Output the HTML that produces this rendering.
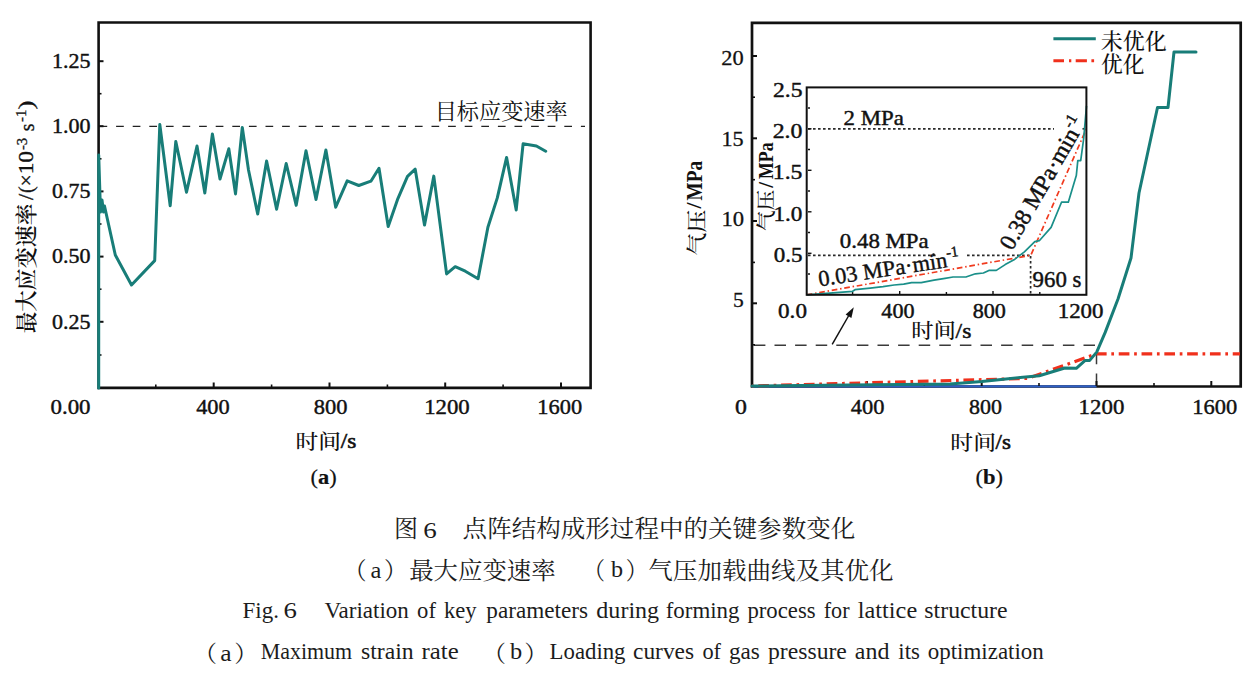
<!DOCTYPE html>
<html><head><meta charset="utf-8">
<style>
html,body{margin:0;padding:0;background:#fff;}
body{width:1254px;height:675px;overflow:hidden;position:relative;}
svg{position:absolute;left:0;top:0;}
</style></head><body>
<svg width="1254" height="675" viewBox="0 0 1254 675">
<!-- ===== PANEL A ===== -->
<path d="M98.6,22.5 H590.6 V387.9 H98.6 Z" fill="none" stroke="#111" stroke-width="2.6"/>
<line x1="99.5" y1="126.4" x2="585" y2="126.4" stroke="#222" stroke-width="1.4" stroke-dasharray="7.7 8.9"/>
<g stroke="#111" stroke-width="2">
  <line x1="99" y1="61.2" x2="103.5" y2="61.2"/>
  <line x1="99" y1="126.2" x2="103.5" y2="126.2"/>
  <line x1="99" y1="191.4" x2="103.5" y2="191.4"/>
  <line x1="99" y1="256.6" x2="103.5" y2="256.6"/>
  <line x1="99" y1="321.8" x2="103.5" y2="321.8"/>
  <line x1="213.7" y1="387" x2="213.7" y2="382.5"/>
  <line x1="329.5" y1="387" x2="329.5" y2="382.5"/>
  <line x1="445.2" y1="387" x2="445.2" y2="382.5"/>
  <line x1="561" y1="387" x2="561" y2="382.5"/>
</g>
<g stroke="#111" stroke-width="1.6">
  <line x1="99" y1="93.7" x2="101.5" y2="93.7"/>
  <line x1="99" y1="158.8" x2="101.5" y2="158.8"/>
  <line x1="99" y1="224" x2="101.5" y2="224"/>
  <line x1="99" y1="289.2" x2="101.5" y2="289.2"/>
  <line x1="99" y1="355" x2="101.5" y2="355"/>
  <line x1="155.8" y1="387" x2="155.8" y2="384.5"/>
  <line x1="271.6" y1="387" x2="271.6" y2="384.5"/>
  <line x1="387.4" y1="387" x2="387.4" y2="384.5"/>
  <line x1="503.1" y1="387" x2="503.1" y2="384.5"/>
</g>
<polyline fill="none" stroke="#187d78" stroke-width="3" stroke-linejoin="round" stroke-linecap="round"
 points="98.7,388 98.7,155 100.5,212 102,200 103.5,212 104.5,206 115.3,255 131.5,285 154.7,260.6 159.8,124.5 170.2,205.7 175.8,141.5 186.5,192.2 197,146 204.8,193 212.4,134 220,179 228.8,148.8 235.5,193.9 242.3,127.5 248.5,170 257.7,214 266.6,161 276.6,209.2 286.2,163.5 296.2,205.3 306,150.8 316,199.5 325.9,150 335.7,207.2 347.2,180.8 358.8,185.5 370.9,181.2 379,168.3 388.2,226.5 397.9,198.6 407.5,176.4 415.2,169.2 424.5,225.1 433.8,176.1 446.6,273.9 455.2,266.7 465.3,271.2 478.1,278.7 487.9,227.2 497.3,197.9 506.6,157.4 516.2,209.9 523.1,143.8 536.4,146 545.7,151.3"/>

<!-- ===== PANEL B ===== -->
<path d="M752,22.8 H1240.7 V386.5 H752 Z" fill="none" stroke="#111" stroke-width="2.7"/>
<line x1="752" y1="386.4" x2="1096.5" y2="386.4" stroke="#2f5fc4" stroke-width="2.4"/>
<polyline points="753,345.2 1096.5,345.2 1096.5,386" fill="none" stroke="#3a3a3a" stroke-width="1.5" stroke-dasharray="11.5 9.1" stroke-dashoffset="-0.9"/>
<line x1="832.2" y1="344.3" x2="848.5" y2="316" stroke="#111" stroke-width="1.5"/>
<polygon points="853.8,307.2 845.6,314.6 851.4,318" fill="#111"/>
<g stroke="#111" stroke-width="2">
  <line x1="752" y1="56" x2="757" y2="56"/>
  <line x1="752" y1="138.3" x2="757" y2="138.3"/>
  <line x1="752" y1="221" x2="757" y2="221"/>
  <line x1="752" y1="303.3" x2="757" y2="303.3"/>
  <line x1="867" y1="386" x2="867" y2="381"/>
  <line x1="981.7" y1="386" x2="981.7" y2="381"/>
  <line x1="1096.5" y1="386" x2="1096.5" y2="381"/>
  <line x1="1211.3" y1="386" x2="1211.3" y2="381"/>
</g>
<g stroke="#111" stroke-width="1.6">
  <line x1="752" y1="97.2" x2="755" y2="97.2"/>
  <line x1="752" y1="179.7" x2="755" y2="179.7"/>
  <line x1="752" y1="262.4" x2="755" y2="262.4"/>
  <line x1="752" y1="344.8" x2="755" y2="344.8"/>
  <line x1="809.5" y1="386" x2="809.5" y2="383"/>
  <line x1="924.3" y1="386" x2="924.3" y2="383"/>
  <line x1="1039" y1="386" x2="1039" y2="383"/>
  <line x1="1154" y1="386" x2="1154" y2="383"/>
</g>
<polyline fill="none" stroke="#f0301c" stroke-width="3.2" stroke-dasharray="10.7 4.7 2.7 4.7" stroke-dashoffset="16.5"
 points="752,386 1027.7,378.4 1096.5,353.8 1240,353.8"/>
<polyline fill="none" stroke="#187d78" stroke-width="3" stroke-linejoin="round" stroke-linecap="round"
 points="752,386 800,385.6 850,385.1 900,384.6 950,384 981.9,381.5 1020.2,377.6 1039.3,375.7 1064.8,368 1076.3,368.3 1085.2,360.4 1089.7,360.4 1096.7,352.1 1105.2,332.4 1118,299 1131,258 1139,193 1157.5,107.5 1168,107.5 1174,52 1196,52"/>
<!-- legend -->
<line x1="1053.4" y1="38.8" x2="1095.8" y2="38.8" stroke="#187d78" stroke-width="3"/>
<line x1="1053.4" y1="60.7" x2="1096" y2="60.7" stroke="#f0301c" stroke-width="3" stroke-dasharray="10.6 5 2.3 4.4 11.2 4.5 2.7 9"/>

<!-- ===== INSET ===== -->
<rect x="806.7" y="87.4" width="279.7" height="207.4" fill="#fff"/>
<line x1="808" y1="128.8" x2="1054" y2="128.8" stroke="#2a2a2a" stroke-width="1.7" stroke-dasharray="2.6 2.4"/>
<line x1="1082.5" y1="128.8" x2="1086" y2="128.8" stroke="#2a2a2a" stroke-width="1.7" stroke-dasharray="2.6 2.4"/>
<line x1="808" y1="255.3" x2="936" y2="255.3" stroke="#2a2a2a" stroke-width="1.7" stroke-dasharray="2.6 2.4"/>
<circle cx="933.5" cy="254.5" r="1.3" fill="#111"/>
<line x1="967" y1="255.3" x2="1030.5" y2="255.3" stroke="#2a2a2a" stroke-width="1.7" stroke-dasharray="2.6 2.4"/>
<line x1="1030.6" y1="256" x2="1030.6" y2="294" stroke="#2a2a2a" stroke-width="1.7" stroke-dasharray="2.6 2.4"/>
<g stroke="#111" stroke-width="1.4">
  <line x1="808" y1="128.8" x2="811.5" y2="128.8"/>
  <line x1="808" y1="170.3" x2="811.5" y2="170.3"/>
  <line x1="808" y1="211.8" x2="811.5" y2="211.8"/>
  <line x1="808" y1="253.3" x2="811.5" y2="253.3"/>
  <line x1="808" y1="108" x2="810" y2="108"/>
  <line x1="808" y1="149.5" x2="810" y2="149.5"/>
  <line x1="808" y1="191" x2="810" y2="191"/>
  <line x1="808" y1="232.5" x2="810" y2="232.5"/>
  <line x1="808" y1="274" x2="810" y2="274"/>
  <line x1="852.6" y1="295" x2="852.6" y2="292"/>
  <line x1="899.7" y1="295" x2="899.7" y2="291"/>
  <line x1="946.4" y1="295" x2="946.4" y2="292"/>
  <line x1="993" y1="295" x2="993" y2="291"/>
  <line x1="1039.8" y1="295" x2="1039.8" y2="292"/>
</g>
<polyline fill="none" stroke="#f03a1e" stroke-width="1.7" stroke-dasharray="5.7 2.8 1.5 2.7"
 points="806.7,294.8 1030.8,255.3 1086,129.6"/>
<polyline fill="none" stroke="#1a8f89" stroke-width="1.7" stroke-linejoin="round"
 points="806.7,294.8 852.6,291.3 855,289.7 870.2,288.1 883,286.6 894.1,285 903.7,284.2 911.6,282.6 921.2,282.6 934,280.2 943.5,278.6 953.1,277 965.9,277 975.4,273.8 983.4,273 988.9,270.4 996.3,270.4 1005.2,264.6 1014,259.8 1024.4,251.8 1034.8,241.6 1039.3,240.7 1051.1,227.4 1061.5,202.2 1068.3,202.2 1076.3,175.6 1077.8,160.7 1080.7,160.7 1083.7,138.5 1086.5,105.9"/>
<rect x="806.7" y="87.4" width="279.7" height="207.4" fill="none" stroke="#111" stroke-width="2"/>

<text x="51.98" y="68.02" font-family='"Liberation Serif", serif' font-weight="400" font-size="22" textLength="38.50" lengthAdjust="spacingAndGlyphs" fill="#111"  stroke="#111" stroke-width="0.45">1.25</text>
<text x="51.98" y="132.93" font-family='"Liberation Serif", serif' font-weight="400" font-size="22" textLength="38.50" lengthAdjust="spacingAndGlyphs" fill="#111"  stroke="#111" stroke-width="0.45">1.00</text>
<text x="51.98" y="198.23" font-family='"Liberation Serif", serif' font-weight="400" font-size="22" textLength="38.50" lengthAdjust="spacingAndGlyphs" fill="#111"  stroke="#111" stroke-width="0.45">0.75</text>
<text x="51.98" y="263.23" font-family='"Liberation Serif", serif' font-weight="400" font-size="22" textLength="38.50" lengthAdjust="spacingAndGlyphs" fill="#111"  stroke="#111" stroke-width="0.45">0.50</text>
<text x="51.98" y="328.83" font-family='"Liberation Serif", serif' font-weight="400" font-size="22" textLength="38.50" lengthAdjust="spacingAndGlyphs" fill="#111"  stroke="#111" stroke-width="0.45">0.25</text>
<text x="50.49" y="413.93" font-family='"Liberation Serif", serif' font-weight="400" font-size="22" textLength="40.03" lengthAdjust="spacingAndGlyphs" fill="#111" stroke="#111" stroke-width="0.45">0.00</text>
<text x="196.15" y="413.93" font-family='"Liberation Serif", serif' font-weight="400" font-size="22" textLength="33.54" lengthAdjust="spacingAndGlyphs" fill="#111" stroke="#111" stroke-width="0.45">400</text>
<text x="313.70" y="413.93" font-family='"Liberation Serif", serif' font-weight="400" font-size="22" textLength="33.70" lengthAdjust="spacingAndGlyphs" fill="#111" stroke="#111" stroke-width="0.45">800</text>
<text x="424.15" y="413.93" font-family='"Liberation Serif", serif' font-weight="400" font-size="22" textLength="45.56" lengthAdjust="spacingAndGlyphs" fill="#111" stroke="#111" stroke-width="0.45">1200</text>
<text x="537.38" y="413.93" font-family='"Liberation Serif", serif' font-weight="400" font-size="22" textLength="44.81" lengthAdjust="spacingAndGlyphs" fill="#111" stroke="#111" stroke-width="0.45">1600</text>
<text x="434.68" y="118.50" font-family='"Noto Serif CJK SC", serif' font-weight="400" font-size="22" textLength="133.02" lengthAdjust="spacingAndGlyphs" fill="#111" >目标应变速率</text>
<text x="295.48" y="448.62" font-family='"Noto Serif CJK SC", serif' font-weight="500" font-size="20.5" textLength="45.50" lengthAdjust="spacingAndGlyphs" fill="#111" >时间</text>
<text x="340.80" y="447.52" font-family='"Liberation Serif", serif' font-weight="400" font-size="22" textLength="15.54" lengthAdjust="spacingAndGlyphs" fill="#111" stroke="#111" stroke-width="0.6">/s</text>
<text x="310.64" y="483.69" font-family='"Liberation Serif", serif' font-weight="400" font-size="22" textLength="26.12" lengthAdjust="spacingAndGlyphs" fill="#111"  stroke="#111" stroke-width="0.2">(<tspan font-weight="700">a</tspan>)</text>
<text x="721.29" y="64.93" font-family='"Liberation Serif", serif' font-weight="400" font-size="22" textLength="22.40" lengthAdjust="spacingAndGlyphs" fill="#111"  stroke="#111" stroke-width="0.3">20</text>
<text x="721.50" y="145.52" font-family='"Liberation Serif", serif' font-weight="400" font-size="22" textLength="22.18" lengthAdjust="spacingAndGlyphs" fill="#111"  stroke="#111" stroke-width="0.3">15</text>
<text x="721.46" y="226.43" font-family='"Liberation Serif", serif' font-weight="400" font-size="22" textLength="22.64" lengthAdjust="spacingAndGlyphs" fill="#111"  stroke="#111" stroke-width="0.3">10</text>
<text x="732.91" y="306.81" font-family='"Liberation Serif", serif' font-weight="400" font-size="22" textLength="10.75" lengthAdjust="spacingAndGlyphs" fill="#111"  stroke="#111" stroke-width="0.3">5</text>
<text x="735.05" y="413.83" font-family='"Liberation Serif", serif' font-weight="400" font-size="22" textLength="11.90" lengthAdjust="spacingAndGlyphs" fill="#111" stroke="#111" stroke-width="0.45">0</text>
<text x="850.75" y="413.83" font-family='"Liberation Serif", serif' font-weight="400" font-size="22" textLength="33.65" lengthAdjust="spacingAndGlyphs" fill="#111" stroke="#111" stroke-width="0.45">400</text>
<text x="968.92" y="413.83" font-family='"Liberation Serif", serif' font-weight="400" font-size="22" textLength="32.96" lengthAdjust="spacingAndGlyphs" fill="#111" stroke="#111" stroke-width="0.45">800</text>
<text x="1078.64" y="413.83" font-family='"Liberation Serif", serif' font-weight="400" font-size="22" textLength="45.67" lengthAdjust="spacingAndGlyphs" fill="#111" stroke="#111" stroke-width="0.45">1200</text>
<text x="1192.28" y="413.83" font-family='"Liberation Serif", serif' font-weight="400" font-size="22" textLength="44.92" lengthAdjust="spacingAndGlyphs" fill="#111" stroke="#111" stroke-width="0.45">1600</text>
<text x="950.38" y="449.70" font-family='"Noto Serif CJK SC", serif' font-weight="500" font-size="20" textLength="45.61" lengthAdjust="spacingAndGlyphs" fill="#111" >时间</text>
<text x="995.60" y="449.02" font-family='"Liberation Serif", serif' font-weight="400" font-size="22" textLength="15.33" lengthAdjust="spacingAndGlyphs" fill="#111" stroke="#111" stroke-width="0.6">/s</text>
<text x="975.44" y="483.69" font-family='"Liberation Serif", serif' font-weight="400" font-size="22" textLength="27.53" lengthAdjust="spacingAndGlyphs" fill="#111"  stroke="#111" stroke-width="0.2">(<tspan font-weight="700">b</tspan>)</text>
<text x="1100.83" y="49.39" font-family='"Noto Serif CJK SC", serif' font-weight="500" font-size="22" textLength="65.94" lengthAdjust="spacingAndGlyphs" fill="#111" >未优化</text>
<text x="1100.95" y="71.79" font-family='"Noto Serif CJK SC", serif' font-weight="500" font-size="22" textLength="43.41" lengthAdjust="spacingAndGlyphs" fill="#111" >优化</text>
<text x="772.94" y="97.09" font-family='"Liberation Serif", serif' font-weight="400" font-size="21.5" textLength="29.51" lengthAdjust="spacingAndGlyphs" fill="#111"  stroke="#111" stroke-width="0.45">2.5</text>
<text x="772.73" y="137.80" font-family='"Liberation Serif", serif' font-weight="400" font-size="21.5" textLength="29.72" lengthAdjust="spacingAndGlyphs" fill="#111"  stroke="#111" stroke-width="0.45">2.0</text>
<text x="772.87" y="179.19" font-family='"Liberation Serif", serif' font-weight="400" font-size="21.5" textLength="29.58" lengthAdjust="spacingAndGlyphs" fill="#111"  stroke="#111" stroke-width="0.45">1.5</text>
<text x="773.52" y="220.80" font-family='"Liberation Serif", serif' font-weight="400" font-size="21.5" textLength="28.91" lengthAdjust="spacingAndGlyphs" fill="#111"  stroke="#111" stroke-width="0.45">1.0</text>
<text x="773.68" y="262.10" font-family='"Liberation Serif", serif' font-weight="400" font-size="21.5" textLength="28.74" lengthAdjust="spacingAndGlyphs" fill="#111"  stroke="#111" stroke-width="0.45">0.5</text>
<text x="778.08" y="317.60" font-family='"Liberation Serif", serif' font-weight="400" font-size="21.5" textLength="28.85" lengthAdjust="spacingAndGlyphs" fill="#111"  stroke="#111" stroke-width="0.45">0.0</text>
<text x="881.36" y="317.60" font-family='"Liberation Serif", serif' font-weight="400" font-size="21.5" textLength="33.13" lengthAdjust="spacingAndGlyphs" fill="#111"  stroke="#111" stroke-width="0.45">400</text>
<text x="972.72" y="317.60" font-family='"Liberation Serif", serif' font-weight="400" font-size="21.5" textLength="33.17" lengthAdjust="spacingAndGlyphs" fill="#111"  stroke="#111" stroke-width="0.45">800</text>
<text x="1057.74" y="317.60" font-family='"Liberation Serif", serif' font-weight="400" font-size="21.5" textLength="45.78" lengthAdjust="spacingAndGlyphs" fill="#111"  stroke="#111" stroke-width="0.45">1200</text>
<text x="911.21" y="338.23" font-family='"Noto Serif CJK SC", serif' font-weight="500" font-size="20.5" textLength="44.74" lengthAdjust="spacingAndGlyphs" fill="#111" >时间</text>
<text x="955.60" y="337.53" font-family='"Liberation Serif", serif' font-weight="400" font-size="20.5" textLength="15.75" lengthAdjust="spacingAndGlyphs" fill="#111" stroke="#111" stroke-width="0.45">/s</text>
<text x="843.57" y="125.49" font-family='"Liberation Serif", serif' font-weight="400" font-size="21.5" textLength="60.25" lengthAdjust="spacingAndGlyphs" fill="#111"  stroke="#111" stroke-width="0.45">2 MPa</text>
<text x="839.89" y="248.20" font-family='"Liberation Serif", serif' font-weight="400" font-size="21.5" textLength="88.84" lengthAdjust="spacingAndGlyphs" fill="#111"  stroke="#111" stroke-width="0.45">0.48 MPa</text>
<text x="1032.61" y="286.50" font-family='"Liberation Serif", serif' font-weight="400" font-size="23" textLength="48.87" lengthAdjust="spacingAndGlyphs" fill="#111"  stroke="#111" stroke-width="0.45">960 s</text>
<g transform="translate(33.3,333) rotate(-90)">
<text x="-0.36" y="0.88" font-family='"Noto Serif CJK SC", serif' font-weight="600" font-size="21.5" textLength="129.61" lengthAdjust="spacingAndGlyphs" fill="#111" >最大应变速率</text>
<text x="133.12" y="-0.58" font-family='"Liberation Serif", serif' font-weight="400" font-size="22" fill="#111"  stroke="#111" stroke-width="0.4">/</text>
<text x="139.90" y="-0.31" font-family='"Liberation Serif", serif' font-weight="400" font-size="22" textLength="6.66" lengthAdjust="spacingAndGlyphs" fill="#111"  stroke="#111" stroke-width="0.3">(</text>
<text x="146.58" y="0.07" font-family='"Liberation Serif", serif' font-weight="400" font-size="22" textLength="12.12" lengthAdjust="spacingAndGlyphs" fill="#111"  stroke="#111" stroke-width="0.3">×</text>
<text x="158.70" y="-0.47" font-family='"Liberation Serif", serif' font-weight="400" font-size="22" textLength="23.33" lengthAdjust="spacingAndGlyphs" fill="#111"  stroke="#111" stroke-width="0.35">10</text>
<text x="182.99" y="-6.70" font-family='"Liberation Serif", serif' font-weight="400" font-size="15" textLength="12.17" lengthAdjust="spacingAndGlyphs" fill="#111"  stroke="#111" stroke-width="0.3">-3</text>
<text x="201.81" y="0.34" font-family='"Liberation Serif", serif' font-weight="400" font-size="22" textLength="7.66" lengthAdjust="spacingAndGlyphs" fill="#111"  stroke="#111" stroke-width="0.35">s</text>
<text x="210.97" y="-7.20" font-family='"Liberation Serif", serif' font-weight="400" font-size="15" textLength="12.50" lengthAdjust="spacingAndGlyphs" fill="#111"  stroke="#111" stroke-width="0.3">-1</text>
<text x="223.48" y="-0.12" font-family='"Liberation Serif", serif' font-weight="400" font-size="22" textLength="9.09" lengthAdjust="spacingAndGlyphs" fill="#111"  stroke="#111" stroke-width="0.3">)</text>
</g><g transform="translate(702.9,255) rotate(-90)">
<text x="-0.41" y="0.64" font-family='"Noto Serif CJK SC", serif' font-weight="500" font-size="21" textLength="45.61" lengthAdjust="spacingAndGlyphs" fill="#111" >气压</text>
<text x="46.42" y="-1.78" font-family='"Liberation Serif", serif' font-weight="700" font-size="22" fill="#111" >/</text>
<text x="54.61" y="-0.54" font-family='"Liberation Serif", serif' font-weight="700" font-size="23" textLength="39.47" lengthAdjust="spacingAndGlyphs" fill="#111" >MPa</text>
</g><g transform="translate(772.8,231) rotate(-90)">
<text x="-0.12" y="0.48" font-family='"Noto Serif CJK SC", serif' font-weight="500" font-size="19.5" textLength="41.25" lengthAdjust="spacingAndGlyphs" fill="#111" >气压</text>
<text x="43.26" y="-0.04" font-family='"Liberation Serif", serif' font-weight="700" font-size="21" fill="#111" >/</text>
<text x="51.93" y="-0.14" font-family='"Liberation Serif", serif' font-weight="700" font-size="21" textLength="36.73" lengthAdjust="spacingAndGlyphs" fill="#111" >MPa</text>
</g>
<text transform="translate(819.5,286.5) rotate(-8.6)" font-family='"Liberation Serif",serif' font-size="22.5" fill="#111" stroke="#111" stroke-width="0.4">0.03 MPa·min<tspan dy="-9.5" font-size="15">-1</tspan></text>
<text transform="translate(1012,251.5) rotate(-60)" font-family='"Liberation Serif",serif' font-size="23.5" fill="#111" stroke="#111" stroke-width="0.45">0.38 MPa·min<tspan dy="-10" font-size="15.5">-1</tspan></text>

<text x="394.06" y="537.38" font-family='"Noto Serif CJK SC", serif' font-weight="400" font-size="24" fill="#1c1c1c" >图</text>
<text x="423.18" y="537.51" font-family='"Liberation Serif", serif' font-weight="400" font-size="23.5" textLength="13.53" lengthAdjust="spacingAndGlyphs" fill="#1c1c1c" >6</text>
<text x="462.60" y="537.40" font-family='"Noto Serif CJK SC", serif' font-weight="400" font-size="24" textLength="392.66" lengthAdjust="spacingAndGlyphs" fill="#1c1c1c" >点阵结构成形过程中的关键参数变化</text>
<text x="343.78" y="579.20" font-family='"Noto Serif CJK SC", serif' font-weight="400" font-size="24" textLength="22.81" lengthAdjust="spacingAndGlyphs" fill="#1c1c1c" >（</text>
<text x="370.64" y="577.81" font-family='"Liberation Serif", serif' font-weight="400" font-size="23" textLength="10.90" lengthAdjust="spacingAndGlyphs" fill="#1c1c1c" >a</text>
<text x="384.02" y="579.20" font-family='"Noto Serif CJK SC", serif' font-weight="400" font-size="24" textLength="22.81" lengthAdjust="spacingAndGlyphs" fill="#1c1c1c" >）</text>
<text x="409.20" y="579.00" font-family='"Noto Serif CJK SC", serif' font-weight="400" font-size="24" textLength="146.50" lengthAdjust="spacingAndGlyphs" fill="#1c1c1c" >最大应变速率</text>
<text x="583.26" y="579.20" font-family='"Noto Serif CJK SC", serif' font-weight="400" font-size="24" textLength="21.75" lengthAdjust="spacingAndGlyphs" fill="#1c1c1c" >（</text>
<text x="611.00" y="577.49" font-family='"Liberation Serif", serif' font-weight="400" font-size="23" textLength="12.07" lengthAdjust="spacingAndGlyphs" fill="#1c1c1c" >b</text>
<text x="625.69" y="579.20" font-family='"Noto Serif CJK SC", serif' font-weight="400" font-size="24" textLength="21.75" lengthAdjust="spacingAndGlyphs" fill="#1c1c1c" >）</text>
<text x="648.32" y="578.76" font-family='"Noto Serif CJK SC", serif' font-weight="400" font-size="24" textLength="245.34" lengthAdjust="spacingAndGlyphs" fill="#1c1c1c" >气压加载曲线及其优化</text>
<text x="242.61" y="618.4" font-family='"Liberation Serif", serif' font-size="23" textLength="36.36" lengthAdjust="spacingAndGlyphs" fill="#1c1c1c">Fig.</text>
<text x="283.49" y="618.4" font-family='"Liberation Serif", serif' font-size="23" textLength="13.41" lengthAdjust="spacingAndGlyphs" fill="#1c1c1c">6</text>
<text x="324.47" y="618.4" font-family='"Liberation Serif", serif' font-size="23" textLength="84.39" lengthAdjust="spacingAndGlyphs" fill="#1c1c1c">Variation</text>
<text x="417.09" y="618.4" font-family='"Liberation Serif", serif' font-size="23" textLength="18.86" lengthAdjust="spacingAndGlyphs" fill="#1c1c1c">of</text>
<text x="443.95" y="618.4" font-family='"Liberation Serif", serif' font-size="23" textLength="32.64" lengthAdjust="spacingAndGlyphs" fill="#1c1c1c">key</text>
<text x="486.35" y="618.4" font-family='"Liberation Serif", serif' font-size="23" textLength="101.69" lengthAdjust="spacingAndGlyphs" fill="#1c1c1c">parameters</text>
<text x="596.36" y="618.4" font-family='"Liberation Serif", serif' font-size="23" textLength="62.74" lengthAdjust="spacingAndGlyphs" fill="#1c1c1c">during</text>
<text x="665.71" y="618.4" font-family='"Liberation Serif", serif' font-size="23" textLength="73.78" lengthAdjust="spacingAndGlyphs" fill="#1c1c1c">forming</text>
<text x="747.46" y="618.4" font-family='"Liberation Serif", serif' font-size="23" textLength="68.11" lengthAdjust="spacingAndGlyphs" fill="#1c1c1c">process</text>
<text x="823.74" y="618.4" font-family='"Liberation Serif", serif' font-size="23" textLength="25.80" lengthAdjust="spacingAndGlyphs" fill="#1c1c1c">for</text>
<text x="857.81" y="618.4" font-family='"Liberation Serif", serif' font-size="23" textLength="59.38" lengthAdjust="spacingAndGlyphs" fill="#1c1c1c">lattice</text>
<text x="924.35" y="618.4" font-family='"Liberation Serif", serif' font-size="23" textLength="83.25" lengthAdjust="spacingAndGlyphs" fill="#1c1c1c">structure</text>
<text x="260.74" y="658.8" font-family='"Liberation Serif", serif' font-size="23" textLength="91.42" lengthAdjust="spacingAndGlyphs" fill="#1c1c1c">Maximum</text>
<text x="360.95" y="658.8" font-family='"Liberation Serif", serif' font-size="23" textLength="52.64" lengthAdjust="spacingAndGlyphs" fill="#1c1c1c">strain</text>
<text x="421.60" y="658.8" font-family='"Liberation Serif", serif' font-size="23" textLength="37.13" lengthAdjust="spacingAndGlyphs" fill="#1c1c1c">rate</text>
<text x="549.62" y="658.8" font-family='"Liberation Serif", serif' font-size="23" textLength="75.88" lengthAdjust="spacingAndGlyphs" fill="#1c1c1c">Loading</text>
<text x="633.07" y="658.8" font-family='"Liberation Serif", serif' font-size="23" textLength="60.95" lengthAdjust="spacingAndGlyphs" fill="#1c1c1c">curves</text>
<text x="702.40" y="658.8" font-family='"Liberation Serif", serif' font-size="23" textLength="18.65" lengthAdjust="spacingAndGlyphs" fill="#1c1c1c">of</text>
<text x="728.96" y="658.8" font-family='"Liberation Serif", serif' font-size="23" textLength="30.91" lengthAdjust="spacingAndGlyphs" fill="#1c1c1c">gas</text>
<text x="768.05" y="658.8" font-family='"Liberation Serif", serif' font-size="23" textLength="78.81" lengthAdjust="spacingAndGlyphs" fill="#1c1c1c">pressure</text>
<text x="854.86" y="658.8" font-family='"Liberation Serif", serif' font-size="23" textLength="34.55" lengthAdjust="spacingAndGlyphs" fill="#1c1c1c">and</text>
<text x="898.34" y="658.8" font-family='"Liberation Serif", serif' font-size="23" textLength="21.55" lengthAdjust="spacingAndGlyphs" fill="#1c1c1c">its</text>
<text x="927.78" y="658.8" font-family='"Liberation Serif", serif' font-size="23" textLength="116.05" lengthAdjust="spacingAndGlyphs" fill="#1c1c1c">optimization</text>
<text x="193.62" y="662.35" font-family='"Noto Serif CJK SC", serif' font-weight="400" font-size="23" textLength="23.51" lengthAdjust="spacingAndGlyphs" fill="#1c1c1c" >（</text>
<text x="220.31" y="661.31" font-family='"Liberation Serif", serif' font-weight="400" font-size="23" textLength="11.35" lengthAdjust="spacingAndGlyphs" fill="#1c1c1c" >a</text>
<text x="234.17" y="662.35" font-family='"Noto Serif CJK SC", serif' font-weight="400" font-size="23" textLength="23.51" lengthAdjust="spacingAndGlyphs" fill="#1c1c1c" >）</text>
<text x="482.62" y="662.35" font-family='"Noto Serif CJK SC", serif' font-weight="400" font-size="23" textLength="23.51" lengthAdjust="spacingAndGlyphs" fill="#1c1c1c" >（</text>
<text x="510.10" y="659.49" font-family='"Liberation Serif", serif' font-weight="400" font-size="23" textLength="12.17" lengthAdjust="spacingAndGlyphs" fill="#1c1c1c" >b</text>
<text x="524.27" y="662.35" font-family='"Noto Serif CJK SC", serif' font-weight="400" font-size="23" textLength="23.51" lengthAdjust="spacingAndGlyphs" fill="#1c1c1c" >）</text>
</svg>
</body></html>
